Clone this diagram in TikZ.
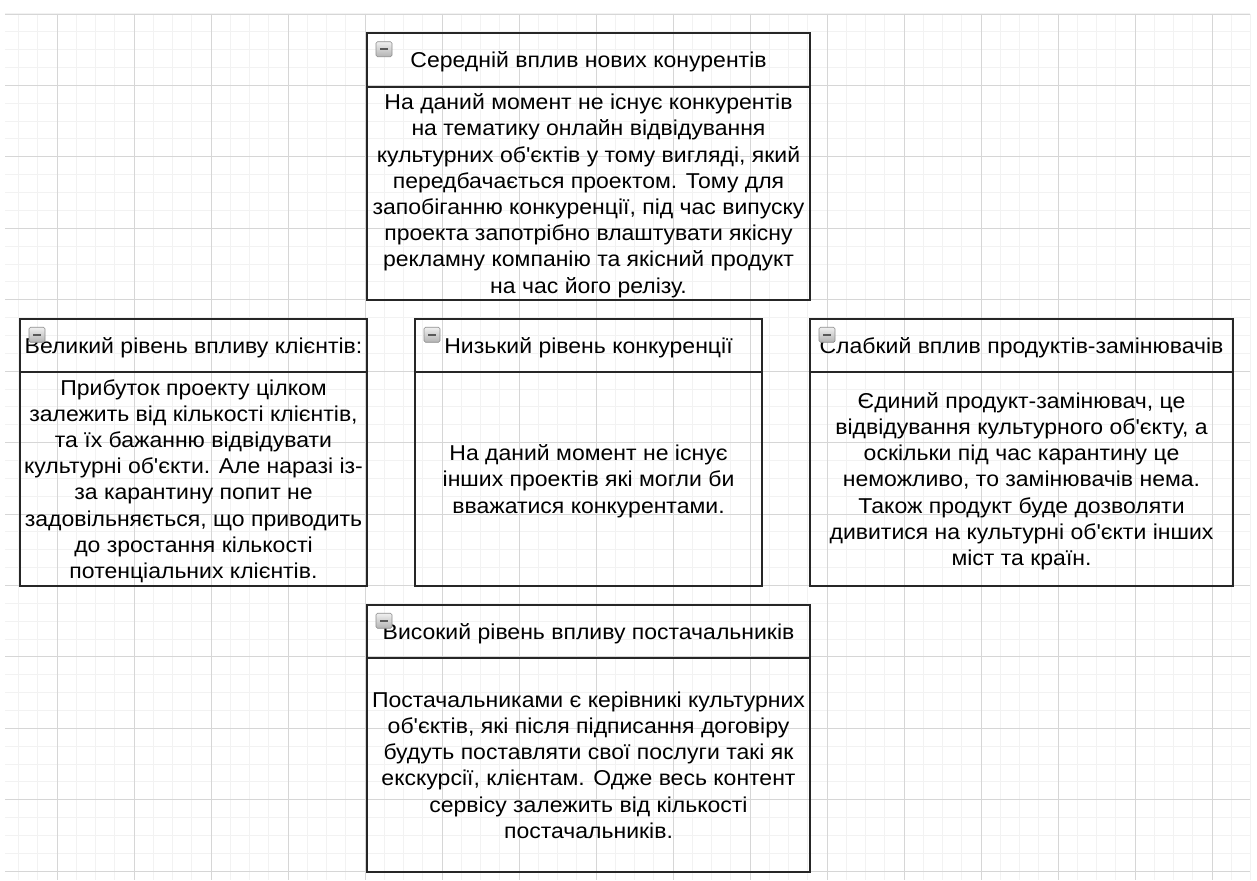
\documentclass[tikz,border=0pt]{standalone}
\usepackage{fontspec}
\newfontfamily\boxfont{Liberation Sans}[Ligatures=TeXOff, FakeStretch=1.07]
\usepackage{tikz}
\usetikzlibrary{positioning}
\colorlet{GridMinor}{black!5}
\colorlet{GridMajor}{black!16}
\colorlet{BoxLine}{black!85}

\def \hdrH  {53.5pt}
\def \bodyH {213.5pt}

\tikzset{
  hdr/.style={draw=BoxLine, line width=1.6pt, outer sep=0pt, inner sep=0pt,
    minimum height=\hdrH, text=black, text depth=0pt,
    font=\boxfont\fontsize{21.5}{26.2}\selectfont},
  body/.style={hdr, minimum height=\bodyH, align=center},
  foldicon/.style={draw=black!45, top color=black!6, bottom color=black!30,
    rounded corners=1.5pt, line width=0.6pt, inner sep=0pt,
    minimum width=16pt, minimum height=15pt}
}

\begin{document}
\begin{tikzpicture}[x=1pt, y=-1pt]

\useasboundingbox (0,0) rectangle (1257,880);

% The grid
\foreach \i in {0,...,64} {
  \pgfmathsetmacro\gx{18.5+19.25*\i}
  \draw[GridMinor, line width=1pt] (\gx,14) -- (\gx,880);
}
\foreach \j in {0,...,48} {
  \pgfmathsetmacro\gy{14+17.857*\j}
  \draw[GridMinor, line width=1pt] (5,\gy) -- (1250,\gy);
}
\foreach \i in {0,...,15} {
  \pgfmathsetmacro\gx{57+77*\i}
  \draw[GridMajor, line width=0.9pt] (\gx,14) -- (\gx,880);
}
\foreach \j in {0,...,12} {
  \pgfmathsetmacro\gy{14+71.43*\j}
  \draw[GridMajor, line width=0.9pt] (5,\gy) -- (1250,\gy);
}

% new competitors (top)
\node[hdr, minimum width=443] (compHdr) at (588.5,60) {Середній вплив нових конурентів};
\node[body, minimum width=443, below=0pt of compHdr] (compBody)
  {На даний момент не існує конкурентів\\
   на тематику онлайн відвідування\\
   культурних об'єктів у тому вигляді, який\\
   передбачається проектом. Тому для\\
   запобіганню конкуренції, під час випуску\\
   проекта запотрібно влаштувати якісну\\
   рекламну компанію та якісний продукт\\
   на час його релізу.};

% clients (left)
\node[hdr, minimum width=347] (clientHdr) at (193.5,345.5) {Великий рівень впливу клієнтів:};
\node[body, minimum width=347, below=0pt of clientHdr] (clientBody)
  {Прибуток проекту цілком\\
   залежить від кількості клієнтів,\\
   та їх бажанню відвідувати\\
   культурні об'єкти. Але наразі із-\\
   за карантину попит не\\
   задовільняється, що приводить\\
   до зростання кількості\\
   потенціальних клієнтів.};

% rivalry (middle)
\node[hdr, minimum width=347] (rivalHdr) at (588.5,345.5) {Низький рівень конкуренції};
\node[body, minimum width=347, below=0pt of rivalHdr] (rivalBody)
  {На даний момент не існує\\
   інших проектів які могли би\\
   вважатися конкурентами.};

% substitutes (right)
\node[hdr, minimum width=423] (substHdr) at (1021.5,345.5) {Слабкий вплив продуктів-замінювачів};
\node[body, minimum width=423, below=0pt of substHdr] (substBody)
  {Єдиний продукт-замінювач, це\\
   відвідування культурного об'єкту, а\\
   оскільки під час карантину це\\
   неможливо, то замінювачів нема.\\
   Також продукт буде дозволяти\\
   дивитися на культурні об'єкти інших\\
   міст та країн.};

% suppliers (bottom)
\node[hdr, minimum width=443] (supplHdr) at (588.5,631.5) {Високий рівень впливу постачальників};
\node[body, minimum width=443, below=0pt of supplHdr] (supplBody)
  {Постачальниками є керівникі культурних\\
   об'єктів, які після підписання договіру\\
   будуть поставляти свої послуги такі як\\
   екскурсії, клієнтам. Одже весь контент\\
   сервісу залежить від кількості\\
   постачальників.};

% fold icons
\node[foldicon] (compIcon)   at ([shift={(17,16)}]compHdr.north west)   {\textcolor{black!65}{\rule{8pt}{2pt}}};
\node[foldicon] (clientIcon) at ([shift={(17,16)}]clientHdr.north west) {\textcolor{black!65}{\rule{8pt}{2pt}}};
\node[foldicon] (rivalIcon)  at ([shift={(17,16)}]rivalHdr.north west)  {\textcolor{black!65}{\rule{8pt}{2pt}}};
\node[foldicon] (substIcon)  at ([shift={(17,16)}]substHdr.north west)  {\textcolor{black!65}{\rule{8pt}{2pt}}};
\node[foldicon] (supplIcon)  at ([shift={(17,16)}]supplHdr.north west)  {\textcolor{black!65}{\rule{8pt}{2pt}}};

\end{tikzpicture}
\end{document}
